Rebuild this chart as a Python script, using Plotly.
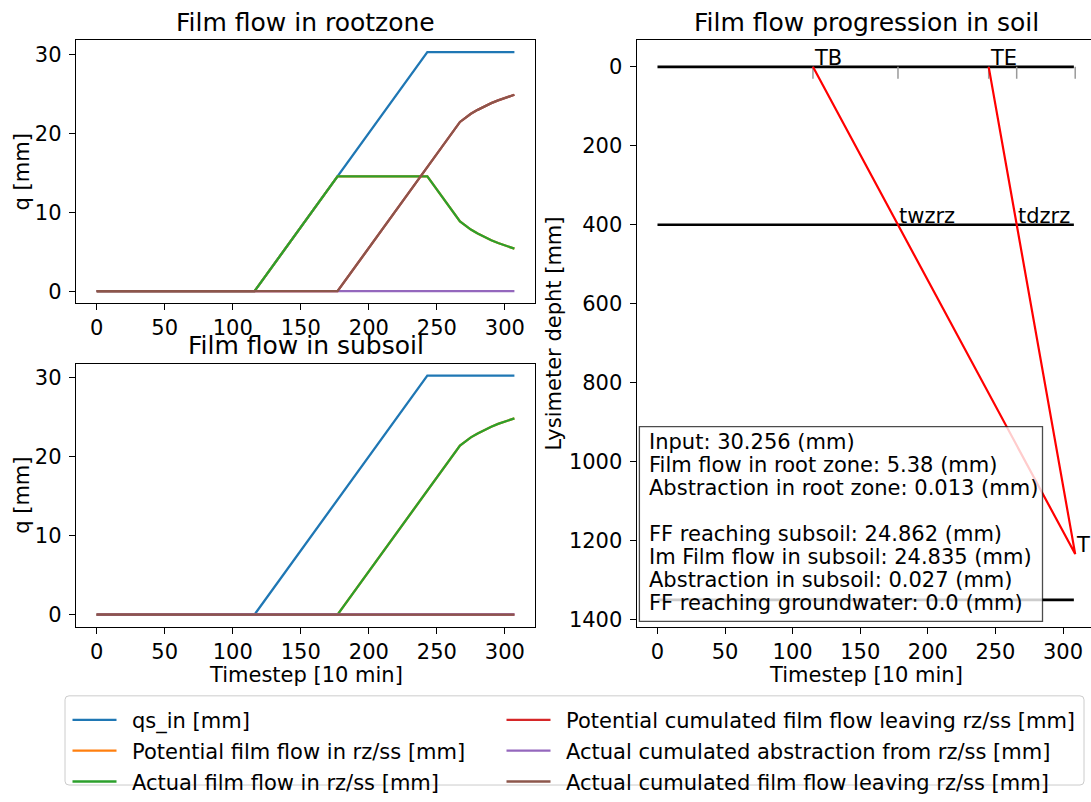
import plotly.graph_objects as go

W, H = 1091, 802
FONT = "DejaVu Sans"

# ---------------- root zone / subsoil balance (timestep vertices) ----------------
t_input = [0, 116, 243, 307]
qs_in = [0.0, 0.0, 30.256, 30.256]

t_rz_film = [0, 116, 177, 243, 267, 270, 275, 280, 285, 290, 295, 300, 307]
rz_film_pot = [0.0, 0.0, 14.53, 14.53, 8.82, 8.40, 7.80, 7.30, 6.85, 6.45, 6.10, 5.80, 5.38]
rz_film_act = [0.0, 0.0, 14.53, 14.53, 8.82, 8.40, 7.80, 7.30, 6.85, 6.45, 6.10, 5.80, 5.38]

t_rz_leave = [0, 177, 267, 270, 275, 280, 285, 290, 295, 300, 307]
rz_leave_pot = [0.0, 0.0, 21.42, 21.85, 22.45, 22.95, 23.40, 23.80, 24.15, 24.45, 24.862]
rz_leave_act = [0.0, 0.0, 21.42, 21.85, 22.45, 22.95, 23.40, 23.80, 24.15, 24.45, 24.862]

t_rz_abs = [0, 177, 243, 307]
rz_abs = [0.0, 0.0, 0.006, 0.013]

t_ss_film = [0, 177, 267, 270, 275, 280, 285, 290, 295, 300, 307]
ss_film_pot = [0.0, 0.0, 21.40, 21.83, 22.43, 22.93, 23.38, 23.78, 24.13, 24.43, 24.835]
ss_film_act = [0.0, 0.0, 21.40, 21.83, 22.43, 22.93, 23.38, 23.78, 24.13, 24.43, 24.835]

t_ss_leave = [0, 307]
ss_leave_pot = [0.0, 0.0]
ss_leave_act = [0.0, 0.0]

t_ss_abs = [0, 177, 307]
ss_abs = [0.0, 0.0, 0.027]

series_names = [
    "qs_in [mm]",
    "Potential film flow in rz/ss [mm]",
    "Actual film flow in rz/ss [mm]",
    "Potential cumulated film flow leaving rz/ss [mm]",
    "Actual cumulated abstraction from rz/ss [mm]",
    "Actual cumulated film flow leaving rz/ss [mm]",
]
series_colors = ["#1f77b4", "#ff7f0e", "#2ca02c", "#d62728", "#9467bd", "#8c564b"]

# ---------------- film flow front in the soil profile ----------------
layer_depths = [0, 400, 1350]          # surface, root zone bottom, groundwater [mm]
layer_t = [0, 308]
front_t = [115, 309, 245]              # TB -> TI <- TE
front_depth = [0, 1234, 0]
event_names = ["TB", "twzrz", "TE", "tdzrz", "TI"]
event_t = [115, 177.9, 245, 265.7, 309]
event_depth = [0, 400, 0, 400, 1234]
event_tick_len = 30

# ---------------- summary ----------------
input_total = 30.256
rz_film_total = 5.38
rz_abs_total = 0.013
ss_reach = 24.862
ss_film_total = 24.835
ss_abs_total = 0.027
gw_reach = 0.0

x_ticks = [0, 50, 100, 150, 200, 250, 300]
q_ticks = [0, 10, 20, 30]
depth_ticks = [0, 200, 400, 600, 800, 1000, 1200, 1400]

FS = 21        # body text size
FS_TITLE = 25  # panel title size


def px(x):
    return x / W


def py(y):
    return 1 - y / H


def padded(lo, hi, frac=0.05):
    span = hi - lo
    return [lo - frac * span, hi + frac * span]


fig = go.Figure()

top = [(t_input, qs_in), (t_rz_film, rz_film_pot), (t_rz_film, rz_film_act),
       (t_rz_leave, rz_leave_pot), (t_rz_abs, rz_abs), (t_rz_leave, rz_leave_act)]
bottom = [(t_input, qs_in), (t_ss_film, ss_film_pot), (t_ss_film, ss_film_act),
          (t_ss_leave, ss_leave_pot), (t_ss_abs, ss_abs), (t_ss_leave, ss_leave_act)]

# legend labels sit a little further from their line sample
LABEL_GAP = "\u2002"

for i, (tx, vy) in enumerate(top):
    fig.add_trace(go.Scatter(
        x=tx, y=vy, mode="lines", name=LABEL_GAP + series_names[i],
        line=dict(color=series_colors[i], width=2.3),
        xaxis="x", yaxis="y", legendgroup=str(i),
        legend="legend" if i < 3 else "legend2", showlegend=True))

for i, (tx, vy) in enumerate(bottom):
    fig.add_trace(go.Scatter(
        x=tx, y=vy, mode="lines", name=series_names[i],
        line=dict(color=series_colors[i], width=2.3),
        xaxis="x2", yaxis="y2", showlegend=False))

# layer boundaries
for d in layer_depths:
    fig.add_trace(go.Scatter(x=layer_t, y=[d, d], mode="lines",
                             line=dict(color="black", width=2.6),
                             xaxis="x3", yaxis="y3", showlegend=False))

# short grey markers below the surface at each event time
tick_x, tick_y = [], []
for t in event_t:
    tick_x += [t, t, None]
    tick_y += [0, event_tick_len, None]
fig.add_trace(go.Scatter(x=tick_x, y=tick_y, mode="lines",
                         line=dict(color="#9a9a9a", width=1.5),
                         xaxis="x3", yaxis="y3", showlegend=False))

fig.add_trace(go.Scatter(x=front_t, y=front_depth, mode="lines",
                         line=dict(color="red", width=2.2),
                         xaxis="x3", yaxis="y3", showlegend=False))

axis_common = dict(showline=True, linecolor="black", linewidth=1.1, ticks="outside",
                   ticklen=6, tickwidth=1.1, tickcolor="black", showgrid=False,
                   zeroline=False, tickfont=dict(family=FONT, size=FS, color="black"))

left_x = padded(0, 307)
q_range = padded(0, max(qs_in))

fig.update_layout(
    xaxis=dict(domain=[px(75.8), px(535.3)], range=left_x, tickvals=x_ticks,
               anchor="y", mirror=True, **axis_common),
    yaxis=dict(domain=[py(309.3), py(41)], range=q_range, tickvals=q_ticks,
               anchor="x", mirror=True, ticklabelstandoff=3, **axis_common),
    xaxis2=dict(domain=[px(75.8), px(535.3)], range=left_x, tickvals=x_ticks,
                anchor="y2", mirror=True, **axis_common),
    yaxis2=dict(domain=[py(639.3), py(371)], range=q_range, tickvals=q_ticks,
                anchor="x2", mirror=True, ticklabelstandoff=3, **axis_common),
)

# right panel: full axis width 459.5 px, cut at the figure edge
right_full = padded(0, max(event_t))
right_left_px = 636.6
visible = (W - right_left_px) / 459.5
right_range = [right_full[0], right_full[0] + (right_full[1] - right_full[0]) * visible]
depth_range = padded(0, max(layer_depths))

fig.update_layout(
    xaxis3=dict(domain=[px(right_left_px), 1.0], range=right_range, tickvals=x_ticks,
                anchor="y3", mirror=True, **axis_common),
    yaxis3=dict(domain=[py(639.3), py(41)], range=[depth_range[1], depth_range[0]],
                tickvals=depth_ticks, anchor="x3", mirror=False, ticklabelstandoff=3,
                **axis_common),
)

ann = []


def text(x, y, s, size=FS, xanchor="center", angle=0, xref="paper", yref="paper", **kw):
    ann.append(dict(x=x, y=y, xref=xref, yref=yref, text=s, showarrow=False,
                    xanchor=xanchor, yanchor="middle", textangle=angle,
                    font=dict(family=FONT, size=size, color="black"), **kw))


# panel titles
text(px(305.5), py(22.5), "Film flow in rootzone", size=FS_TITLE)
text(px(305.5), py(352.5), "Film flow in subsoil", size=FS_TITLE)
text(px(866.3), py(22.5), "Film flow progression in soil", size=FS_TITLE)

# axis titles
text(px(305.5), py(689), "Timestep [10 min]")
text(px(866.3), py(689), "Timestep [10 min]")
text(px(21.7), py(175.2), "q [mm]", angle=-90)
text(px(21.7), py(505.2), "q [mm]", angle=-90)
text(px(554), py(340.2), "Lysimeter depht [mm]", angle=-90)

# event labels on the depth profile
for name, t, d in zip(event_names, event_t, event_depth):
    ann.append(dict(x=t, y=d, xref="x3", yref="y3", text=name, showarrow=False,
                    xanchor="left", yanchor="bottom", yshift=-5, xshift=-1,
                    font=dict(family=FONT, size=FS, color="black")))

summary = [
    f"Input: {input_total} (mm)",
    f"Film flow in root zone: {rz_film_total} (mm)",
    f"Abstraction in root zone: {rz_abs_total} (mm)",
    "",
    f"FF reaching subsoil: {ss_reach} (mm)",
    f"Im Film flow in subsoil: {ss_film_total} (mm)",
    f"Abstraction in subsoil: {ss_abs_total} (mm)",
    f"FF reaching groundwater: {gw_reach} (mm)",
]
base0 = 458.5
for k, line in enumerate(summary):
    if line:
        text(px(646.5), py(base0 + 23.4 * k - 7.2), line, xanchor="left")


def rounded_rect(x0, y0, x1, y1, r):
    """SVG path (paper coords) for a rectangle with rounded corners, given in pixels."""
    pts = [
        f"M{px(x0 + r)},{py(y0)}", f"L{px(x1 - r)},{py(y0)}",
        f"Q{px(x1)},{py(y0)} {px(x1)},{py(y0 + r)}", f"L{px(x1)},{py(y1 - r)}",
        f"Q{px(x1)},{py(y1)} {px(x1 - r)},{py(y1)}", f"L{px(x0 + r)},{py(y1)}",
        f"Q{px(x0)},{py(y1)} {px(x0)},{py(y1 - r)}", f"L{px(x0)},{py(y0 + r)}",
        f"Q{px(x0)},{py(y0)} {px(x0 + r)},{py(y0)}", "Z",
    ]
    return " ".join(pts)


shapes = [
    dict(type="rect", xref="paper", yref="paper", x0=px(639.4), x1=px(1042.5),
         y0=py(634), y1=py(435.3), fillcolor="rgba(255,255,255,0.8)",
         line=dict(color="rgba(0,0,0,0.7)", width=1.3), layer="above"),
    dict(type="path", xref="paper", yref="paper",
         path=rounded_rect(65, 710, 1084, 801, 4), fillcolor="rgba(255,255,255,0.8)",
         line=dict(color="#cccccc", width=1), layer="below"),
]

legend_common = dict(orientation="v", xanchor="left", yanchor="top",
                     font=dict(family=FONT, size=FS, color="black"),
                     bgcolor="rgba(0,0,0,0)", borderwidth=0, tracegroupgap=0.5,
                     traceorder="grouped", itemwidth=44)

fig.update_layout(
    width=W, height=H, margin=dict(l=0, r=0, t=0, b=0, pad=0),
    paper_bgcolor="white", plot_bgcolor="white",
    font=dict(family=FONT, size=FS, color="black"),
    annotations=ann, shapes=shapes,
    legend=dict(x=px(67.5), y=py(714), **legend_common),
    legend2=dict(x=px(501.5), y=py(714), **legend_common),
)

fig.write_html("out.html")
